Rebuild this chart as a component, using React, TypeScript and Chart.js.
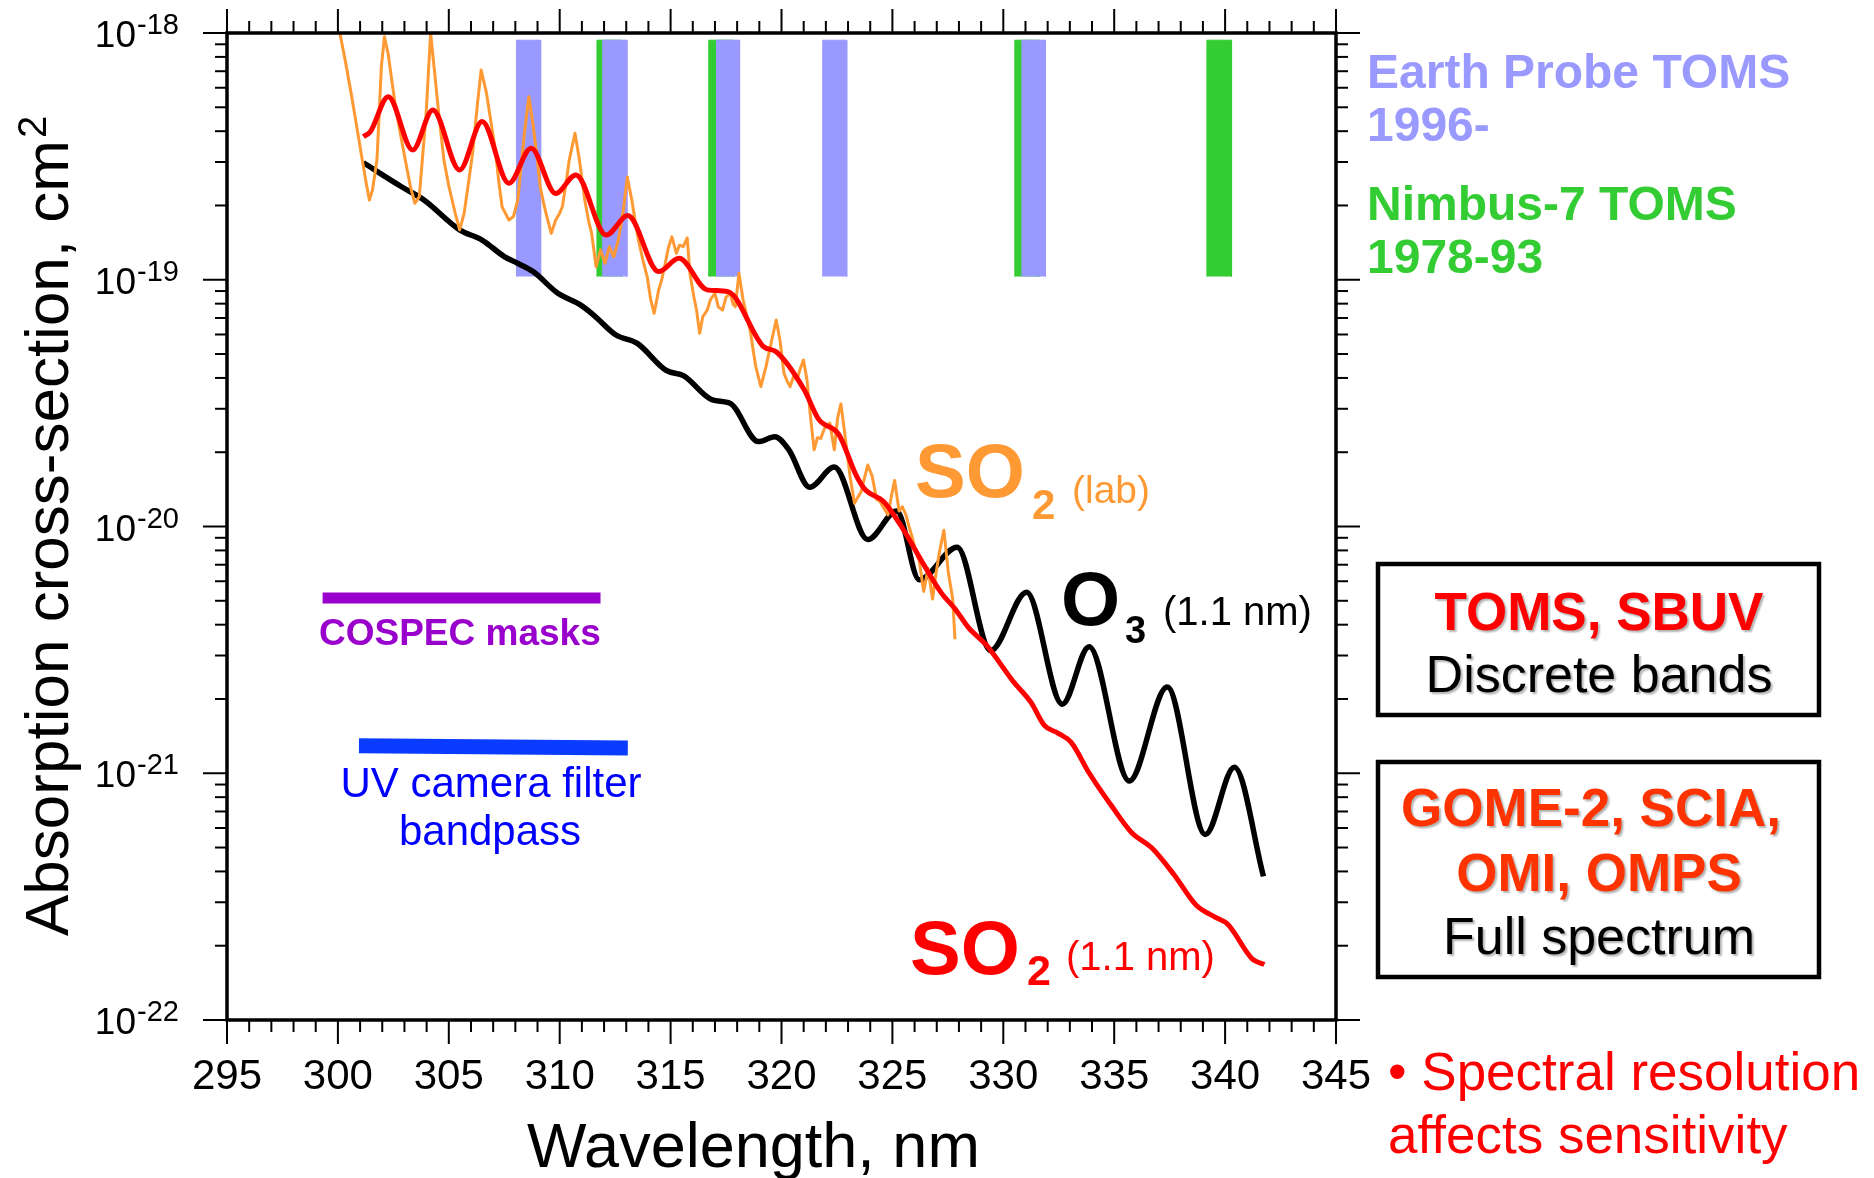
import React, { useEffect, useRef } from 'react';
import { Chart, registerables } from 'chart.js';

Chart.register(...registerables);

const SANS = '"Liberation Sans", Arial, Helvetica, sans-serif';

// ---- axes ----
const X_MIN = 295;
const X_MAX = 345;
const Y_MIN = 1e-22;
const Y_MAX = 1e-18;
const xTickValues = [295, 300, 305, 310, 315, 320, 325, 330, 335, 340, 345];
const yTickExponents = [-18, -19, -20, -21, -22];
const xTitle = 'Wavelength, nm';
const yTitleMain = 'Absorption cross-section, cm';
const yTitleSup = '2';

// ---- O3 cross-section at 1.1 nm resolution (log10 cm²) ----
const o3Wavelength = [
  301.15, 302.87, 303.88, 305.49, 306.5, 307.5, 308.1, 308.8, 309.92, 310.93,
  311.53, 312.54, 313.5, 314.78, 315.6, 316.88, 317.69, 318.96, 319.7, 320.34,
  321.27, 322.38, 323.89, 325.2, 326.21, 327.92, 329.43, 331.05, 332.66, 333.87,
  335.68, 337.39, 339.11, 340.42, 341.73,
];
const o3Log10 = [
  -18.526, -18.623, -18.677, -18.798, -18.839, -18.906, -18.933, -18.967, -19.055, -19.102,
  -19.143, -19.224, -19.258, -19.366, -19.39, -19.487, -19.501, -19.656, -19.636, -19.69,
  -19.841, -19.759, -20.053, -19.937, -20.216, -20.084, -20.503, -20.266, -20.72, -20.487,
  -21.031, -20.65, -21.248, -20.976, -21.418,
];

// ---- SO2 cross-section at 1.1 nm resolution (log10 cm²) ----
const so2Wavelength = [
  301.15, 301.46, 302.27, 303.37, 304.28, 305.49, 306.5, 307.71, 308.71, 309.82,
  310.73, 312.1, 313.07, 314.46, 315.38, 316.65, 317.58, 319.19, 319.76, 321.03,
  321.67, 322.58, 323.39, 323.79, 324.59, 325.4, 326.41, 327.22, 327.82, 328.43,
  329.23, 330.44, 331.25, 331.85, 332.46, 333.06, 333.87, 334.87, 335.78, 336.69,
  337.69, 338.7, 339.51, 340.12, 341.22, 341.77,
];
const so2Log10 = [
  -18.42, -18.4, -18.258, -18.474, -18.312, -18.555, -18.359, -18.609, -18.467, -18.65,
  -18.575, -18.819, -18.74, -18.967, -18.913, -19.041, -19.048, -19.271, -19.292, -19.447,
  -19.565, -19.627, -19.797, -19.852, -19.898, -19.999, -20.154, -20.271, -20.333, -20.41,
  -20.48, -20.627, -20.713, -20.806, -20.837, -20.875, -20.999, -21.131, -21.24, -21.302,
  -21.41, -21.535, -21.581, -21.612, -21.752, -21.775,
];

// ---- SO2 laboratory (high resolution) cross-section (log10 cm²) ----
const labWavelength = [
  300.0, 300.35, 300.65, 300.95, 301.15, 301.3, 301.42, 301.56, 301.76, 301.86,
  301.96, 302.1, 302.26, 302.47, 302.6, 302.87, 303.05, 303.27, 303.47, 303.67,
  303.8, 303.97, 304.18, 304.38, 304.55, 304.78, 305.0, 305.29, 305.49, 305.69,
  305.9, 306.09, 306.3, 306.46, 306.7, 306.9, 307.1, 307.25, 307.4, 307.55,
  307.71, 307.91, 308.11, 308.25, 308.41, 308.61, 308.81, 309.0, 309.12, 309.3,
  309.42, 309.62, 309.82, 310.0, 310.12, 310.3, 310.43, 310.69, 310.89, 311.13,
  311.3, 311.44, 311.64, 311.84, 312.04, 312.24, 312.44, 312.64, 312.85, 313.05,
  313.25, 313.4, 313.55, 313.75, 313.95, 314.1, 314.26, 314.46, 314.6, 314.76,
  314.9, 315.06, 315.26, 315.4, 315.57, 315.75, 315.87, 316.05, 316.17, 316.31,
  316.45, 316.65, 316.8, 317.0, 317.15, 317.34, 317.5, 317.69, 317.82, 317.92,
  318.08, 318.27, 318.45, 318.61, 318.73, 318.84, 319.07, 319.3, 319.53, 319.76,
  319.93, 320.11, 320.25, 320.39, 320.55, 320.69, 320.85, 320.99, 321.15, 321.3,
  321.47, 321.62, 321.77, 321.95, 322.18, 322.38, 322.53, 322.68, 322.88, 323.09,
  323.29, 323.45, 323.59, 323.75, 323.89, 324.09, 324.29, 324.45, 324.59, 324.8,
  324.95, 325.1, 325.3, 325.45, 325.61, 325.75, 325.9, 326.05, 326.21, 326.41,
  326.61, 326.81, 326.95, 327.11, 327.32, 327.52, 327.72, 327.82,
];
const labLog10 = [
  -17.96, -18.12, -18.272, -18.434, -18.542, -18.62, -18.677, -18.636, -18.515, -18.33,
  -18.136, -18.015, -18.082, -18.218, -18.3, -18.434, -18.52, -18.623, -18.69, -18.663,
  -18.52, -18.339, -18.001, -18.177, -18.33, -18.515, -18.62, -18.731, -18.798, -18.731,
  -18.6, -18.474, -18.28, -18.15, -18.244, -18.36, -18.474, -18.6, -18.704, -18.73,
  -18.758, -18.744, -18.677, -18.55, -18.406, -18.258, -18.38, -18.52, -18.623, -18.7,
  -18.744, -18.812, -18.758, -18.73, -18.704, -18.6, -18.515, -18.406, -18.515, -18.677,
  -18.76, -18.812, -18.947, -18.879, -18.933, -18.866, -18.907, -18.839, -18.731, -18.584,
  -18.677, -18.76, -18.839, -18.92, -18.99, -19.08, -19.136, -19.042, -19.0, -18.933,
  -18.87, -18.826, -18.893, -18.86, -18.866, -18.83, -18.974, -19.07, -19.123, -19.217,
  -19.15, -19.123, -19.08, -19.055, -19.11, -19.123, -19.07, -19.055, -19.1, -19.109,
  -18.974, -19.082, -19.15, -19.217, -19.29, -19.352, -19.433, -19.352, -19.258, -19.163,
  -19.244, -19.379, -19.41, -19.433, -19.39, -19.406, -19.36, -19.325, -19.406, -19.55,
  -19.689, -19.64, -19.643, -19.6, -19.581, -19.689, -19.56, -19.503, -19.643, -19.797,
  -19.906, -19.88, -19.859, -19.8, -19.751, -19.797, -19.89, -19.9, -19.922, -19.953,
  -19.88, -19.813, -19.937, -19.92, -19.953, -20.0, -20.046, -20.1, -20.139, -20.263,
  -20.17, -20.294, -20.2, -20.108, -20.015, -20.185, -20.294, -20.457,
];

// ---- TOMS bands (nm) ----
const earthProbeBands = [
  [308.05, 309.14], [311.94, 313.03], [317.07, 318.11], [321.86, 322.94], [330.84, 331.9],
];
const nimbus7Bands = [
  [311.68, 312.78], [316.72, 317.82], [330.52, 331.62], [339.18, 340.29],
];
const BAND_TOP = 9.35e-19;
const BAND_BOTTOM = 1.03e-19;

// ---- instrument bandpasses ----
const cospecWavelength = [299.31, 311.84];
const cospecValue = [5.13e-21, 5.13e-21];
const uvFilterWavelength = [300.95, 313.07];
const uvFilterValue = [1.294e-21, 1.265e-21];

// ---- colours ----
const C_O3 = '#000000';
const C_SO2 = '#ff0000';
const C_LAB = '#ff9933';
const C_EP = '#9999ff';
const C_N7 = '#33cc33';
const C_COSPEC = '#9900cc';
const C_UV = '#0a3cff';

const toPoints = (xs: number[], logs: number[]) => xs.map((x, i) => ({ x, y: Math.pow(10, logs[i]) }));
const toPointsLin = (xs: number[], ys: number[]) => xs.map((x, i) => ({ x, y: ys[i] }));

function bandDataset(b: number[], color: string, order: number) {
  return {
    data: [
      { x: b[0], y: BAND_BOTTOM }, { x: b[0], y: BAND_TOP },
      { x: b[1], y: BAND_TOP }, { x: b[1], y: BAND_BOTTOM },
    ],
    borderColor: color,
    borderWidth: 1,
    backgroundColor: color,
    fill: 'shape',
    pointRadius: 0,
    tension: 0,
    order,
  };
}

function drawText(ctx: CanvasRenderingContext2D, s: string, x: number, y: number, font: string, color: string, align: CanvasTextAlign = 'left') {
  ctx.font = font;
  ctx.fillStyle = color;
  ctx.textAlign = align;
  ctx.textBaseline = 'alphabetic';
  ctx.fillText(s, x, y);
}

const overlayPlugin = {
  id: 'overlay',
  afterDraw(chart: any) {
    const ctx: CanvasRenderingContext2D = chart.ctx;
    const { left, right, top, bottom } = chart.chartArea;
    const xs = chart.scales.x;
    const ys = chart.scales.y;
    ctx.save();
    ctx.strokeStyle = '#000';
    ctx.lineCap = 'butt';
    const seg = (x1: number, y1: number, x2: number, y2: number) => {
      ctx.beginPath(); ctx.moveTo(x1, y1); ctx.lineTo(x2, y2); ctx.stroke();
    };
    // x ticks (top & bottom, outward)
    ctx.lineWidth = 2;
    for (let w = X_MIN; w <= X_MAX; w += 1) {
      const px = xs.getPixelForValue(w);
      const len = w % 5 === 0 ? 24 : 12;
      seg(px, bottom, px, bottom + len);
      seg(px, top, px, top - len);
    }
    // y ticks (left & right, outward)
    for (const e of yTickExponents) {
      for (let m = 1; m <= 9; m++) {
        if (e === -18 && m > 1) continue;
        const py = ys.getPixelForValue(m * Math.pow(10, e));
        const len = m === 1 ? 24 : 12;
        seg(left - len, py, left, py);
        seg(right, py, right + len, py);
      }
    }
    // frame
    ctx.lineWidth = 3.5;
    ctx.strokeRect(left, top, right - left, bottom - top);

    // y tick labels 10^n
    for (const e of yTickExponents) {
      const py = ys.getPixelForValue(Math.pow(10, e));
      drawText(ctx, '10', 136, py + 14, `37px ${SANS}`, '#000', 'right');
      drawText(ctx, String(e), 137, py + 1, `29px ${SANS}`, '#000', 'left');
    }

    // axis titles
    drawText(ctx, xTitle, 527, 1167, `63px ${SANS}`, '#000', 'left');
    ctx.save();
    ctx.translate(68, 936);
    ctx.rotate(-Math.PI / 2);
    drawText(ctx, yTitleMain, 0, 0, `62px ${SANS}`, '#000', 'left');
    const wMain = ctx.measureText(yTitleMain).width;
    drawText(ctx, yTitleSup, wMain + 2, -22, `40px ${SANS}`, '#000', 'left');
    ctx.restore();

    // TOMS legend text
    drawText(ctx, 'Earth Probe TOMS', 1367, 88, `bold 48px ${SANS}`, C_EP);
    drawText(ctx, '1996-', 1367, 141, `bold 48px ${SANS}`, C_EP);
    drawText(ctx, 'Nimbus-7 TOMS', 1367, 220, `bold 48px ${SANS}`, C_N7);
    drawText(ctx, '1978-93', 1367, 273, `bold 48px ${SANS}`, C_N7);

    // curve labels
    drawText(ctx, 'SO', 915, 497, `bold 76px ${SANS}`, C_LAB);
    drawText(ctx, '2', 1032, 519, `bold 42px ${SANS}`, C_LAB);
    drawText(ctx, '(lab)', 1072, 503, `39px ${SANS}`, C_LAB);

    drawText(ctx, 'O', 1061, 625, `bold 76px ${SANS}`, C_O3);
    drawText(ctx, '3', 1125, 643, `bold 38px ${SANS}`, C_O3);
    drawText(ctx, '(1.1 nm)', 1163, 625, `40px ${SANS}`, C_O3);

    drawText(ctx, 'SO', 910, 974, `bold 76px ${SANS}`, C_SO2);
    drawText(ctx, '2', 1027, 985, `bold 43px ${SANS}`, C_SO2);
    drawText(ctx, '(1.1 nm)', 1066, 970, `40px ${SANS}`, C_SO2);

    // instrument labels
    drawText(ctx, 'COSPEC masks', 319, 645, `bold 37px ${SANS}`, C_COSPEC);
    drawText(ctx, 'UV camera filter', 491, 797, `42px ${SANS}`, '#0000ff', 'center');
    drawText(ctx, 'bandpass', 490, 845, `42px ${SANS}`, '#0000ff', 'center');

    // boxes
    ctx.lineWidth = 4.5;
    ctx.strokeStyle = '#000';
    ctx.strokeRect(1378, 564, 441, 151);
    ctx.strokeRect(1378, 762, 441, 215);
    ctx.save();
    ctx.shadowColor = 'rgba(0,0,0,0.3)';
    ctx.shadowOffsetX = 2;
    ctx.shadowOffsetY = 2;
    ctx.shadowBlur = 2;
    drawText(ctx, 'TOMS, SBUV', 1599, 630, `bold 53px ${SANS}`, '#ff0000', 'center');
    drawText(ctx, 'Discrete bands', 1599, 692, `52px ${SANS}`, '#000', 'center');
    drawText(ctx, 'GOME-2, SCIA,', 1591, 826, `bold 53px ${SANS}`, '#ff3300', 'center');
    drawText(ctx, 'OMI, OMPS', 1599, 891, `bold 53px ${SANS}`, '#ff3300', 'center');
    drawText(ctx, 'Full spectrum', 1599, 954, `52px ${SANS}`, '#000', 'center');
    ctx.restore();

    drawText(ctx, '• Spectral resolution', 1388, 1090, `53px ${SANS}`, '#ff0000', 'left');
    drawText(ctx, 'affects sensitivity', 1388, 1153, `53px ${SANS}`, '#ff0000', 'left');

    ctx.restore();
  },
};

export default function App() {
  const canvasRef = useRef<HTMLCanvasElement | null>(null);

  useEffect(() => {
    if (!canvasRef.current) return;
    const datasets: any[] = [];
    nimbus7Bands.forEach((b) => datasets.push(bandDataset(b, C_N7, 6)));
    earthProbeBands.forEach((b) => datasets.push(bandDataset(b, C_EP, 5)));
    datasets.push({
      data: toPointsLin(cospecWavelength, cospecValue),
      borderColor: C_COSPEC, borderWidth: 11, borderCapStyle: 'butt', pointRadius: 0, fill: false, order: 4,
    });
    datasets.push({
      data: toPointsLin(uvFilterWavelength, uvFilterValue),
      borderColor: C_UV, borderWidth: 15, borderCapStyle: 'butt', pointRadius: 0, fill: false, order: 4,
    });
    datasets.push({
      data: toPoints(o3Wavelength, o3Log10),
      borderColor: C_O3, borderWidth: 5.5, pointRadius: 0, fill: false,
      cubicInterpolationMode: 'monotone', order: 3,
    });
    datasets.push({
      data: toPoints(labWavelength, labLog10),
      borderColor: C_LAB, borderWidth: 3, pointRadius: 0, fill: false, tension: 0,
      borderJoinStyle: 'round', order: 2, clip: 0,
    });
    datasets.push({
      data: toPoints(so2Wavelength, so2Log10),
      borderColor: C_SO2, borderWidth: 5, pointRadius: 0, fill: false,
      cubicInterpolationMode: 'monotone', order: 1,
    });

    const chart = new Chart(canvasRef.current, {
      type: 'line',
      data: { datasets },
      options: {
        animation: false,
        responsive: false,
        events: [],
        layout: { padding: { top: 33, right: 538, left: 0, bottom: 0 } },
        plugins: { legend: { display: false }, tooltip: { enabled: false } },
        scales: {
          x: {
            type: 'linear',
            min: X_MIN,
            max: X_MAX,
            afterBuildTicks: (s: any) => { s.ticks = xTickValues.map((v) => ({ value: v })); },
            afterFit: (s: any) => { s.height = 158; },
            grid: { display: false, drawTicks: false },
            border: { display: false },
            ticks: {
              font: { family: SANS, size: 42 },
              color: '#000',
              padding: 32,
              maxRotation: 0,
              minRotation: 0,
              autoSkip: false,
              callback: (v: any) => String(v),
            },
          },
          y: {
            type: 'logarithmic',
            min: Y_MIN,
            max: Y_MAX,
            afterFit: (s: any) => { s.width = 227; },
            grid: { display: false, drawTicks: false },
            border: { display: false },
            ticks: { display: false },
          },
        },
      } as any,
      plugins: [overlayPlugin],
    });
    return () => chart.destroy();
  }, []);

  return (
    <div style={{ position: 'absolute', left: 0, top: 0, width: 1874, height: 1178, background: '#fff' }}>
      <canvas ref={canvasRef} width={1874} height={1178} style={{ width: 1874, height: 1178, display: 'block' }} />
    </div>
  );
}
